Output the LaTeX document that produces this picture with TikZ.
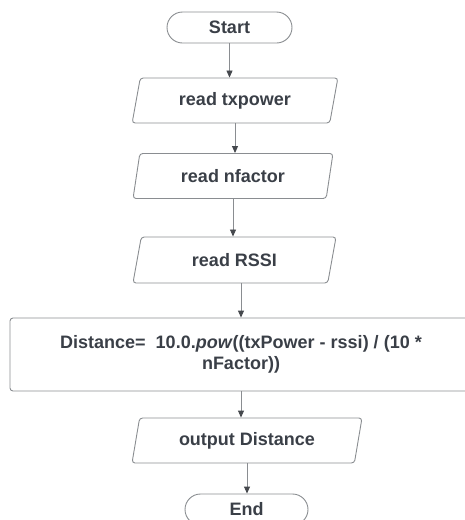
\documentclass[tikz,border=0pt]{standalone}
\usepackage{fontspec}
\setmainfont{Liberation Sans}
\usetikzlibrary{shapes.geometric,shapes.misc,arrows.meta}
\definecolor{edge}{HTML}{8A8D91}
\definecolor{ink}{HTML}{3A3F47}
\definecolor{tipcol}{HTML}{45484D}
\begin{document}
\begin{tikzpicture}[x=1pt,y=-1pt,
  every node/.style={font=\fontsize{18}{20.5}\selectfont\bfseries, text=ink, draw=edge, line width=0.9pt, inner sep=0pt},
  term/.style={rounded rectangle, minimum height=31pt},
  io/.style={trapezium, trapezium left angle=74, trapezium right angle=106,
             trapezium stretches=true, minimum height=45pt, rounded corners=3pt},
  proc/.style={rectangle, rounded corners=3pt},
  flow/.style={draw=edge, line width=0.9pt,
               -{Triangle[width=6pt,length=7pt,fill=tipcol,color=tipcol]}}
]
\useasboundingbox (0,0) rectangle (464,520);

% flowchart nodes
\node[term, minimum width=125pt] (start) at (229.5,27.5) {Start};
\node[io, minimum width=206pt] (tx) at (235,100.5) {read txpower};
\node[io, minimum width=200pt] (nf) at (233,176) {read nfactor};
\node[io, minimum width=205pt, minimum height=46pt] (rssi) at (234.5,260) {read RSSI};
\node[proc, minimum width=462pt, minimum height=73pt, align=center] (dist) at (241,354.5)
  {Distance=\ \ 10.0.\textit{pow}((txPower - rssi) / (10 *\\nFactor))};
\node[io, minimum width=230pt] (out) at (247,440.5) {output Distance};
\node[term, minimum width=123pt] (end) at (246.5,509.5) {End};

% connectors
\draw[flow] (start.south) -- (start.south |- tx.north);
\draw[flow] (tx.south) -- (tx.south |- nf.north);
\draw[flow] (nf.south) -- (nf.south |- rssi.north);
\draw[flow] (dist.north |- rssi.south) -- (dist.north);
\draw[flow] (dist.south) -- (dist.south |- out.north);
\draw[flow] (out.south) -- (out.south |- end.north);
\end{tikzpicture}
\end{document}
